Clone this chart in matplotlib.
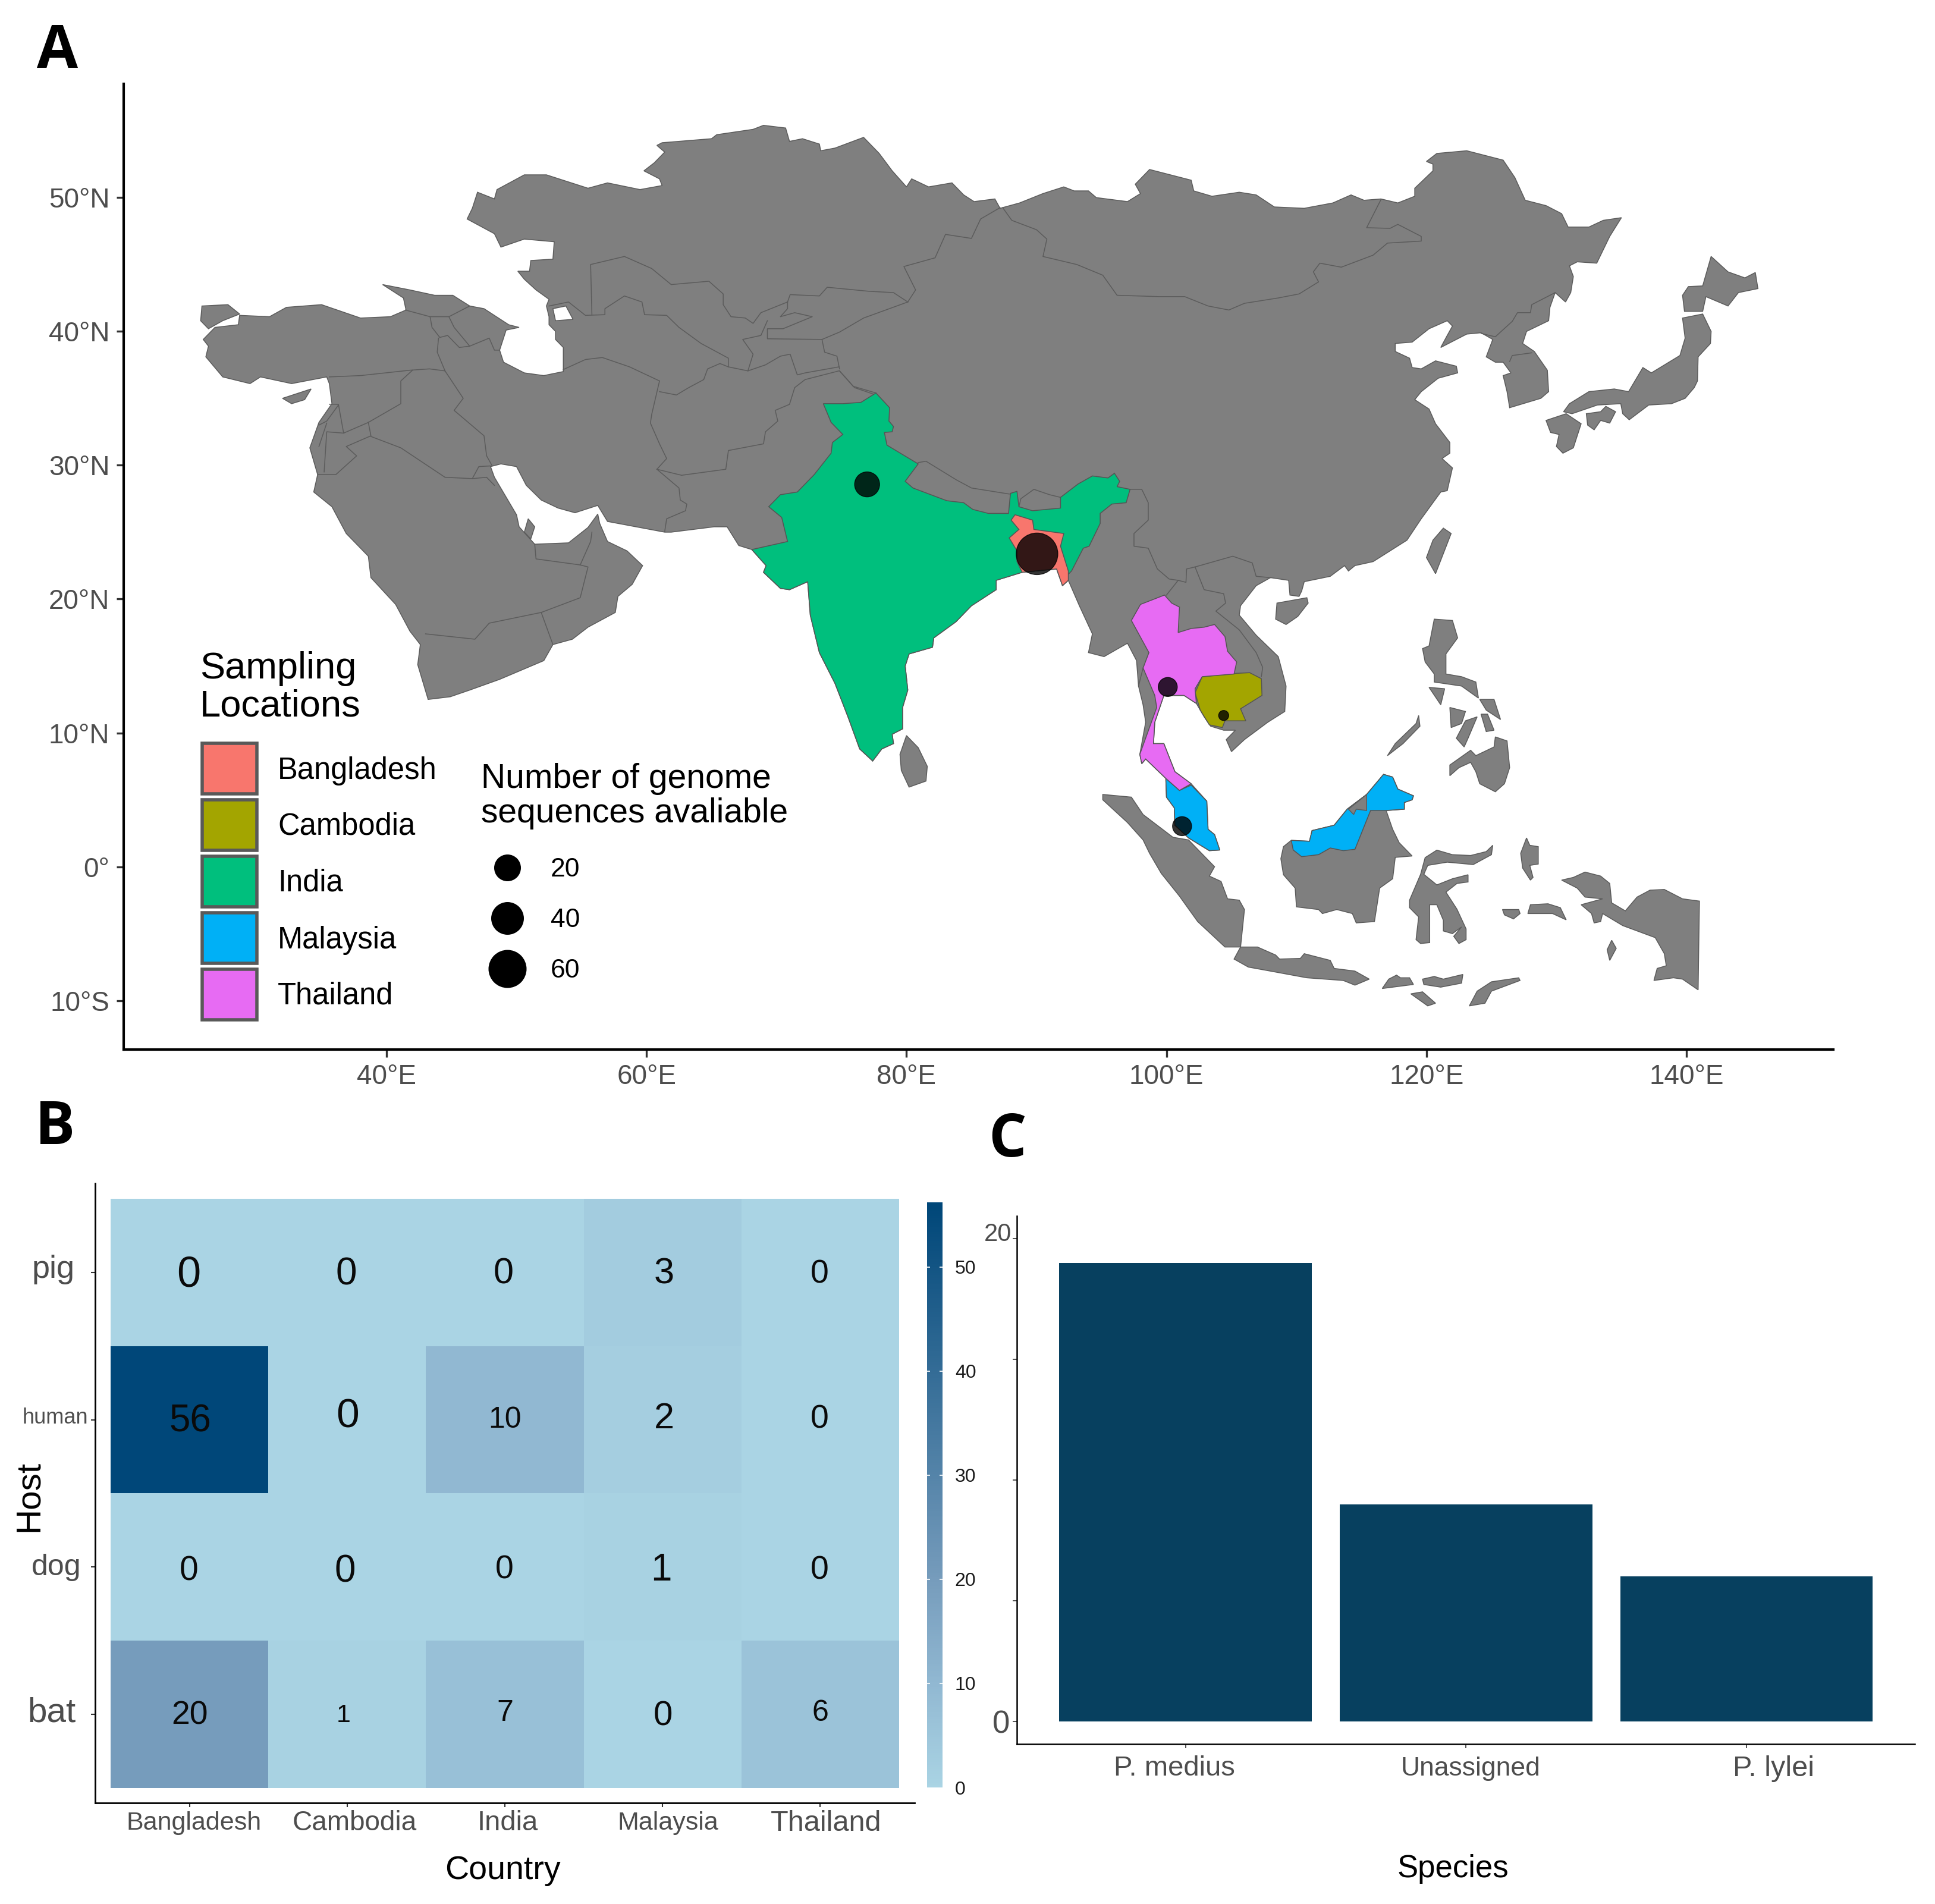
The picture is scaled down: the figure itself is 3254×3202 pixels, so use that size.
import numpy as np
import matplotlib
matplotlib.use("Agg")
import matplotlib.pyplot as plt
from matplotlib.patches import Polygon, Rectangle
from matplotlib.colors import LinearSegmentedColormap

plt.rcParams['font.family'] = ['Liberation Sans', 'DejaVu Sans']

W, H = 3255, 3202

# ---------------------------------------------------------------- map data (lon, lat)
MAINLAND = [
 (28.7,41.2),(31.0,41.1),(32.3,41.8),(35.0,42.0),(38.0,41.0),(40.3,41.1),(41.5,41.6),(41.3,42.5),(39.7,43.5),
 (41.8,43.1),(43.7,42.7),(45.1,42.7),(46.4,41.9),(47.5,41.7),(49.4,40.5),(50.2,40.3),(49.2,40.1),(48.7,38.6),(49.0,37.7),
 (50.6,36.9),(52.1,36.7),(53.6,37.0),(53.6,38.8),(53.0,39.4),(53.0,40.0),(52.5,40.5),(52.5,41.1),(52.3,41.9),(52.5,42.4),
 (51.5,43.1),(50.6,43.9),(50.1,44.5),(51.0,44.5),(51.1,45.3),(52.8,45.4),(52.9,46.7),(50.6,46.9),(48.8,46.3),(48.3,47.3),
 (46.2,48.4),(46.6,49.2),(47.0,50.4),(48.3,49.9),(48.5,50.6),(50.6,51.7),(52.3,51.7),(55.5,50.7),(57.0,51.1),(59.5,50.6),
 (61.2,50.9),(61.0,51.4),(59.8,52.0),(60.6,52.6),(61.4,53.4),(60.8,53.9),(61.2,54.1),(65.0,54.4),(65.4,54.7),(68.2,55.1),
 (69.0,55.4),(70.7,55.2),(71.0,54.2),(72.0,54.4),(73.3,54.0),(73.4,53.5),(74.5,53.7),(76.7,54.5),(77.9,53.3),(78.9,52.0),
 (80.0,50.8),(80.4,51.4),(81.7,50.8),(83.5,51.1),(84.4,50.2),(85.2,49.7),(86.8,49.9),(87.2,49.2),(88.7,49.6),(90.5,50.3),
 (92.1,50.8),(92.9,50.5),(94.0,50.5),(94.6,50.0),(97.0,49.7),(98.0,50.3),(97.6,51.0),(98.7,52.1),(101.9,51.3),(102.1,50.5),
 (103.5,50.1),(105.6,50.4),(106.9,50.2),(108.3,49.3),(110.6,49.2),(112.8,49.6),(114.2,50.2),(115.2,49.8),(116.5,49.9),
 (117.8,49.6),(119.1,50.1),(119.1,50.7),(120.5,52.0),(120.5,52.5),(120.0,52.7),(120.8,53.3),(123.1,53.5),(125.9,52.8),
 (126.8,51.5),(127.6,49.8),(129.2,49.4),(130.4,48.8),(130.9,47.8),(132.5,47.8),(133.6,48.3),(135.0,48.5),(134.1,47.1),
 (133.1,45.1),(131.6,45.2),(131.0,44.9),(131.3,44.1),(131.1,42.9),(130.7,42.2),(129.9,42.9),(129.5,41.8),(129.4,40.8),
 (127.7,40.0),(127.4,39.1),(128.3,38.5),(129.3,37.1),(129.4,35.5),(128.8,35.0),(126.4,34.3),(126.2,35.5),(125.9,36.7),
 (126.5,36.9),(125.9,37.7),(125.3,37.7),(124.6,38.1),(125.1,39.4),(124.2,39.9),(123.1,39.8),(121.1,38.8),(121.6,39.7),
 (122.0,40.4),(121.6,40.8),(120.2,40.2),(118.9,39.2),(117.6,39.1),(117.6,38.5),(118.7,38.0),(118.9,37.3),(119.6,37.2),
 (120.7,37.8),(122.3,37.4),(122.4,36.9),(120.9,36.5),(119.6,35.5),(119.1,34.9),(120.2,34.2),(120.7,33.1),(121.8,31.7),
 (121.8,30.9),(121.2,30.5),(122.0,29.8),(121.6,28.1),(121.1,28.0),(119.6,26.0),(118.5,24.4),(115.9,22.8),(114.5,22.5),
 (114.0,22.1),(113.7,22.5),(112.6,21.7),(110.6,21.3),(110.4,20.6),(110.2,20.2),(109.5,20.3),(109.4,21.4),(108.0,21.6),
 (106.9,21.0),(105.7,19.5),(105.6,18.8),(106.9,17.3),(108.6,15.7),(109.2,13.5),(109.1,11.6),(107.8,10.8),(106.0,9.5),
 (105.0,8.6),(104.6,9.5),(105.3,10.2),(104.4,10.2),(103.4,10.5),(102.9,11.2),(102.3,12.2),(101.35,12.8),(99.8,12.8),
 (99.1,10.8),(99.0,9.2),(99.8,9.2),(100.65,7.1),(101.9,6.2),(103.1,4.9),(103.2,2.8),(103.7,2.4),(104.1,1.25),(103.3,1.2),
 (101.7,2.15),(100.65,3.1),(100.6,4.4),(100.0,5.2),(99.95,6.6),(98.4,8.05),(98.1,7.7),(97.95,8.4),(98.4,10.8),(98.2,12.1),
 (97.85,13.5),(97.7,15.4),(97.0,16.7),(95.2,15.7),(94.0,16.0),(94.3,17.4),(93.3,19.5),(92.45,21.4),(92.0,21.0),(91.55,22.25),
 (88.9,22.0),(86.9,21.4),(86.9,20.7),(85.0,19.5),(83.8,18.3),(82.1,17.1),(82.0,16.4),(80.2,15.9),(79.9,15.0),(80.1,13.2),
 (79.7,11.9),(79.7,10.3),(78.9,9.9),(79.0,9.2),(78.1,8.8),(77.4,7.9),(76.4,8.8),(75.5,11.2),(74.5,13.7),(73.3,16.0),(72.6,18.8),
 (72.4,21.3),(71.0,20.7),(70.3,20.8),(69.0,22.0),(69.2,22.5),(68.1,23.7),(67.1,24.0),(66.2,25.4),(65.2,25.4),(61.9,25.0),(61.4,25.0),
 (57.0,25.8),(56.25,27.0),(54.5,26.45),(53.2,26.8),(51.9,27.4),(50.75,28.5),(50.0,29.9),(48.8,30.1),(48.0,29.9),(48.3,29.1),
 (50.0,26.3),(50.2,25.4),(51.4,24.1),(54.0,24.2),(55.5,25.35),(56.25,26.35),(56.4,25.65),(57.0,24.3),(58.5,23.6),
 (59.7,22.5),(58.9,21.1),(57.8,20.2),(57.6,19.0),(55.5,17.9),(54.3,17.0),(52.8,16.6),(52.1,15.4),(48.7,14.0),(46.4,13.2),
 (44.9,12.7),(43.2,12.5),(42.4,15.1),(42.6,16.6),(41.8,17.6),(40.7,19.6),(38.8,21.6),(38.6,23.2),(36.9,24.9),(35.8,26.9),
 (34.4,28.0),(34.7,29.3),(34.1,31.3),(34.8,33.2),(35.8,34.6),(35.6,36.1),(35.4,36.6),(32.7,36.1),(30.3,36.6),(29.5,36.1),
 (27.4,36.6),(26.1,38.1),(26.3,38.9),(25.9,39.4),(26.8,40.3),(28.6,40.5)]

ISLANDS = {
 'thrace': [(25.8,41.9),(27.8,42.0),(28.7,41.3),(27.4,40.8),(26.3,40.2),(25.7,40.8)],
 'cyprus': [(32.0,35.0),(34.2,35.7),(33.7,34.9),(32.7,34.6)],
 'qatar': [(50.9,26.0),(51.4,25.4),(51.1,24.5),(50.6,25.0)],
 'sri_lanka': [(80.0,9.8),(80.9,8.9),(81.6,7.5),(81.5,6.4),(80.2,5.95),(79.6,7.2),(79.5,8.4)],
 'taiwan': [(121.3,25.3),(121.9,24.9),(120.7,21.9),(120.0,23.1),(120.5,24.4)],
 'hainan': [(108.5,19.7),(110.8,20.1),(110.9,19.7),(110.1,18.7),(109.2,18.1),(108.4,18.5)],
 'luzon': [(120.6,18.5),(122.0,18.4),(122.4,17.1),(121.5,15.9),(121.5,14.4),(122.7,14.2),(123.8,13.8),(124.0,12.6),(122.7,13.5),(120.6,13.8),(120.6,14.4),(119.9,15.3),(119.7,16.3),(120.2,16.5)],
 'mindoro': [(120.2,13.4),(121.4,13.3),(121.1,12.1)],
 'samar': [(124.1,12.5),(125.2,12.5),(125.7,11.0),(124.6,11.7)],
 'leyte': [(124.2,11.4),(124.7,11.4),(125.2,10.2),(124.6,10.1)],
 'panay': [(121.8,11.9),(123.0,11.6),(122.7,10.7),(121.9,10.4)],
 'negros': [(123.0,10.9),(123.9,11.2),(123.2,9.6),(122.9,8.95),(122.3,9.6)],
 'palawan': [(119.4,11.3),(119.5,10.5),(118.2,9.2),(117.0,8.3),(117.6,9.2),(119.2,10.7)],
 'mindanao': [(125.3,9.7),(126.2,9.4),(126.4,7.4),(126.0,6.2),(125.3,5.6),(124.1,6.2),(123.8,7.1),(123.4,7.8),(122.5,7.4),(121.8,6.8),(121.8,7.6),(123.4,8.7),(123.8,8.3),(125.2,8.95)],
 'sumatra': [(95.1,5.4),(97.3,5.2),(98.2,3.9),(100.5,2.2),(101.7,2.0),(103.7,0.0),(103.3,-0.7),(104.2,-1.1),(104.7,-2.4),(105.6,-2.5),(106.0,-3.2),(105.7,-6.0),(104.5,-6.0),(102.4,-4.1),(101.0,-2.2),(99.6,-0.5),(98.7,1.0),(98.2,2.0),(97.0,3.3),(95.1,5.0)],
 'java': [(105.7,-6.0),(107.0,-6.0),(108.4,-6.6),(108.7,-6.9),(110.3,-6.85),(110.6,-6.5),(112.6,-7.0),(112.9,-7.6),(114.5,-7.8),(115.6,-8.4),(114.5,-8.85),(113.6,-8.5),(110.8,-8.3),(108.0,-7.8),(106.3,-7.5),(105.2,-6.9)],
 'sumbawa': [(116.6,-9.1),(117.1,-8.4),(117.7,-8.1),(118.0,-8.3),(118.7,-8.3),(119.0,-8.8)],
 'flores': [(119.7,-8.4),(120.6,-8.2),(121.3,-8.4),(122.8,-8.05),(122.7,-8.7),(121.1,-9.0),(119.8,-8.8)],
 'sumba': [(118.8,-9.5),(119.7,-9.35),(120.7,-10.2),(120.1,-10.4)],
 'timor': [(123.3,-10.4),(123.9,-9.3),(125.0,-8.6),(127.1,-8.3),(127.2,-8.5),(125.0,-9.3),(124.5,-10.2)],
 'borneo': [(109.6,1.97),(111.0,1.9),(111.2,2.7),(112.9,3.1),(113.9,4.3),(115.4,5.4),(116.7,6.9),(117.4,6.7),(117.8,5.8),(119.0,5.3),(118.9,5.0),(118.3,4.8),(118.3,4.3),(116.9,4.2),(117.4,2.8),(117.9,1.8),(118.9,0.8),(117.6,0.7),(117.4,-0.9),(116.4,-1.6),(116.0,-4.1),(114.6,-4.2),(114.3,-3.5),(113.1,-3.2),(112.0,-3.5),(111.7,-3.2),(110.0,-3.0),(109.9,-1.6),(109.0,-0.6),(108.8,0.6),(109.0,1.5)],
 'sulawesi': [(120.8,1.24),(122.0,0.9),(123.4,0.84),(124.6,1.13),(125.1,1.6),(125.0,0.9),(123.6,0.16),(121.6,0.34),(120.1,0.1),(119.8,-0.57),(120.8,-1.36),(122.0,-0.9),(123.2,-0.6),(123.2,-1.14),(122.35,-1.25),(121.5,-1.9),(122.35,-3.18),(123.05,-4.65),(123.05,-5.45),(122.5,-5.74),(122.1,-5.2),(122.7,-4.5),(122.0,-5.0),(121.3,-4.8),(121.3,-4.0),(120.8,-2.84),(120.25,-2.84),(120.25,-5.67),(119.55,-5.74),(119.2,-5.45),(119.4,-3.75),(118.7,-3.06),(118.7,-2.5),(119.55,-0.57),(119.9,0.68)],
 'halmahera': [(127.7,2.15),(127.95,1.6),(128.6,1.5),(128.6,0.2),(127.95,0.1),(128.2,-0.8),(128.0,-1.0),(127.4,-0.1),(127.25,1.0)],
 'buru': [(125.85,-3.2),(127.1,-3.2),(127.2,-3.5),(126.7,-3.9),(126.0,-3.6)],
 'seram': [(128.0,-2.84),(129.35,-2.77),(130.3,-3.06),(130.75,-3.97),(129.7,-3.5),(127.8,-3.5)],
 'aru': [(134.25,-5.5),(134.6,-6.1),(134.1,-7.0),(133.9,-6.2)],
 'new_guinea': [(141.0,-2.57),(139.7,-2.4),(138.3,-1.7),(137.2,-1.75),(136.2,-2.27),(135.3,-3.3),(134.25,-2.7),(134.1,-1.25),(133.4,-0.7),(132.2,-0.4),(131.3,-0.8),(130.4,-1.0),(131.6,-1.6),(132.2,-2.27),(133.55,-2.4),(131.9,-2.84),(132.7,-3.5),(132.9,-4.2),(133.4,-4.1),(133.55,-3.5),(135.1,-4.4),(137.6,-5.3),(138.3,-6.5),(138.45,-7.4),(137.75,-7.6),(137.5,-8.5),(139.0,-8.3),(139.7,-8.4),(140.9,-9.2)],
 'hokkaido': [(141.9,45.6),(143.2,44.45),(144.5,44.0),(145.3,44.4),(145.5,43.2),(144.0,42.9),(143.2,41.9),(141.5,42.6),(141.25,41.5),(139.85,41.5),(139.7,42.7),(140.15,43.35),(141.25,43.4)],
 'honshu': [(141.25,41.3),(141.9,40.0),(141.85,39.1),(140.9,38.1),(140.85,36.3),(140.6,35.8),(139.9,35.0),(138.85,34.6),(137.1,34.5),(135.6,33.4),(135.1,33.85),(134.95,34.6),(133.15,34.5),(131.2,33.85),(130.55,34.0),(131.0,34.6),(132.5,35.5),(134.45,35.7),(135.55,35.5),(136.65,37.3),(137.3,36.9),(139.5,38.2),(139.9,39.5),(139.7,41.0)],
 'shikoku': [(132.3,33.85),(133.4,34.0),(133.8,34.4),(134.55,34.0),(134.1,33.15),(133.4,33.35),(132.9,32.65),(132.4,33.0)],
 'kyushu': [(129.2,33.35),(130.75,33.85),(131.9,33.1),(131.3,31.3),(130.5,30.9),(130.0,31.4),(130.2,32.3),(129.55,32.45)],
}

KARA_BOGAZ = [(52.8,41.7),(53.8,41.9),(54.35,40.9),(53.0,40.8)]
BRUNEI = [(114.0,4.3),(115.4,5.4),(115.4,4.2),(114.6,4.3),(114.4,3.9)]

INDIA = [(77.65,35.4),(78.7,34.3),(78.65,33.3),(79.0,32.9),(78.9,32.5),(78.3,32.45),(78.5,31.5),(80.9,30.1),(79.9,28.8),(80.5,28.3),
 (83.1,27.35),(84.4,27.2),(85.1,26.7),(86.3,26.4),(87.85,26.4),(88.0,27.9),(88.5,28.05),(88.65,26.9),(89.7,26.6),(91.85,26.8),(91.85,27.6),
 (93.2,28.6),(94.3,29.2),(95.5,29.05),(96.0,29.4),(96.4,28.8),(96.2,28.4),(97.2,28.2),(96.9,27.2),(95.8,27.1),(94.9,26.4),(94.9,25.65),
 (94.05,23.95),(93.6,23.8),(92.7,22.1),(92.1,21.5),(91.5,22.6),(88.9,22.0),(86.9,21.4),(86.9,20.7),(85.0,19.5),(83.8,18.3),(82.1,17.1),(82.0,16.4),
 (80.2,15.9),(79.9,15.0),(80.1,13.2),(79.7,11.9),(79.7,10.3),(78.9,9.9),(79.0,9.2),(78.1,8.8),(77.4,7.9),(76.4,8.8),(75.5,11.2),(74.5,13.7),
 (73.3,16.0),(72.6,18.8),(72.4,21.3),(71.0,20.7),(70.3,20.8),(69.0,22.0),(69.2,22.5),(68.1,23.7),(70.85,24.3),(70.4,26.1),(69.4,26.9),(70.3,27.8),
 (71.6,28.0),(72.9,29.3),(74.2,30.9),(74.3,31.7),(75.1,32.3),(74.2,33.2),(73.6,34.6),(75.1,34.6),(76.5,34.7)]
BANGLADESH = [(88.35,26.3),(89.7,25.9),(89.8,25.2),(92.1,24.9),(91.85,23.95),(92.45,22.1),(92.45,21.4),(92.0,21.0),(91.55,22.25),(88.9,22.0),
 (88.5,22.8),(88.5,23.6),(87.9,24.57),(88.65,25.2),(88.05,25.9)]
THAILAND = [(99.85,20.3),(100.4,19.7),(101.0,19.4),(100.9,17.5),(101.9,17.8),(102.9,17.9),(103.7,18.1),(104.5,17.2),(104.7,16.1),(105.4,15.3),
 (105.2,14.4),(102.75,14.2),(102.2,13.3),(102.3,12.2),(101.35,12.8),(99.8,12.8),(99.1,10.8),(99.0,9.2),(99.8,9.2),(100.65,7.1),(101.9,6.2),(101.0,5.7),
 (99.95,6.6),(98.4,8.05),(98.1,7.7),(97.95,8.4),(99.25,11.9),(99.1,12.8),(98.2,14.85),(98.65,16.0),(97.3,18.4),(98.0,19.6)]
CAMBODIA = [(102.75,14.2),(105.4,14.45),(106.4,14.5),(107.3,14.05),(107.35,12.8),(105.7,11.8),(106.1,10.9),(104.5,10.9),(104.3,10.4),(103.3,10.6),(102.6,11.7),(102.2,13.0)]
MALAYSIA_W = [(99.95,6.6),(101.0,5.7),(101.9,6.1),(103.1,4.9),(103.2,2.8),(103.7,2.4),(104.1,1.25),(103.3,1.2),(101.7,2.15),(100.65,3.1),(100.6,4.4),(100.0,5.2)]
MALAYSIA_E = [(109.6,1.97),(111.0,1.9),(111.2,2.7),(112.9,3.1),(113.9,4.3),(115.4,5.4),(116.7,6.9),(117.4,6.7),(117.8,5.8),(119.0,5.3),(118.9,5.0),(118.3,4.8),(118.3,4.3),
 (116.9,4.2),(115.7,4.2),(114.5,1.3),(113.6,1.2),(112.6,1.4),(111.7,0.9),(110.4,0.75),(109.75,1.25)]

BORDERS = [
 [(35.6,36.6),(38.0,36.7),(41.8,37.1),(43.3,37.2),(44.5,37.05)],
 [(42.0,37.1),(41.1,36.3),(41.1,34.6),(38.6,33.2)],
 [(35.6,34.56),(36.3,34.55),(36.7,32.4),(38.6,33.2)],
 [(36.3,34.5),(35.4,33.3),(34.8,33.0)],
 [(35.4,33.15),(34.8,31.4)],
 [(36.7,32.4),(35.4,32.5),(35.2,29.5)],
 [(38.6,33.2),(38.8,32.2),(36.9,31.4),(37.7,30.7),(36.1,29.3),(34.7,29.3)],
 [(38.8,32.15),(41.1,31.3),(44.5,29.1),(46.6,29.0),(47.1,29.9),(48.0,29.95)],
 [(46.6,29.0),(47.7,29.1),(48.3,28.5)],
 [(44.5,37.05),(45.9,35.0),(45.2,34.1),(47.5,32.2),(47.7,30.7),(48.1,30.0)],
 [(44.0,39.5),(43.9,38.45),(44.5,37.05)],
 [(41.45,41.6),(43.35,41.1),(43.5,40.3),(44.1,39.55)],
 [(43.35,41.1),(44.8,41.1),(45.2,40.3),(46.4,38.9),(45.6,38.8),(44.7,39.7),(44.1,39.55)],
 [(44.8,41.1),(46.4,41.9)],
 [(46.4,38.9),(47.9,39.5),(48.3,38.6),(48.7,38.6)],
 [(53.6,37.15),(55.3,37.9),(56.6,38.05),(58.7,37.35),(61.0,36.3)],
 [(61.0,36.3),(60.4,33.8),(60.3,33.15),(61.0,31.6),(61.55,30.5),(60.8,29.7)],
 [(60.8,29.7),(62.5,28.3),(62.6,27.4),(63.1,27.1),(63.0,26.6),(61.55,26.0),(61.4,25.05)],
 [(60.8,29.7),(62.7,29.25),(66.1,29.7),(66.3,31.1),(69.0,31.6),(69.15,32.5),(70.1,33.3),(69.9,34.1),(71.0,34.55),(71.4,35.8),(72.2,36.4),(74.8,37.05)],
 [(61.0,35.5),(62.3,35.25),(63.25,35.8),(64.4,36.4),(64.7,37.2),(65.65,37.6),(66.3,37.35),(67.8,37.05),(69.15,37.5),(70.3,38.15),(71.05,38.3),(71.6,36.75),(72.2,36.9),(74.8,37.35)],
 [(66.3,37.35),(66.3,38.0),(64.2,39.1),(62.5,40.3),(61.55,41.2),(59.85,41.25),(59.65,42.2),(58.3,42.65),(56.8,41.7),(56.8,41.25),(55.3,41.2),(54.0,42.2),(52.5,41.9)],
 [(55.8,41.25),(55.7,45.0),(58.3,45.6),(60.4,44.7),(61.9,43.5),(64.8,43.75),(65.9,42.8),(65.9,42.0),(66.5,41.1),(67.6,41.0),(68.2,40.6),(68.8,41.4),(70.85,42.2)],
 [(70.85,42.2),(71.05,42.75),(73.3,42.65),(73.9,43.3),(77.1,43.0),(79.0,42.9),(80.1,42.2)],
 [(80.1,42.2),(76.7,41.0),(74.85,39.95),(73.5,39.4),(69.3,39.45),(69.3,40.2),(70.5,40.2),(72.75,41.1),(71.4,41.4),(70.3,41.1),(70.85,41.7),(70.85,42.2)],
 [(69.3,40.8),(68.8,39.7),(67.4,39.4),(68.2,38.3),(67.8,37.05)],
 [(73.5,39.4),(73.7,38.45),(74.65,38.15),(74.85,37.2)],
 [(74.85,37.05),(76.0,35.8),(77.5,35.3)],
 [(80.1,42.2),(80.7,43.1),(79.8,44.85),(82.2,45.5),(83.0,47.25),(85.0,46.95),(85.7,48.4),(87.2,49.25)],
 [(87.4,49.25),(88.1,48.3),(90.0,47.6),(90.8,46.9),(90.5,45.6),(93.1,45.0),(95.1,44.2),(96.2,42.7),(99.45,42.6),(101.4,42.6),(103.2,41.9),(104.8,41.6),
  (106.0,42.1),(108.6,42.5),(110.2,42.8),(111.7,43.7),(111.3,44.45),(111.8,45.1),(113.45,44.8),(115.9,45.7),(117.0,46.6),(119.6,46.75),(119.6,47.1),
  (117.8,48.0),(117.2,47.7),(115.4,47.75),(116.5,49.85)],
 [(124.2,39.85),(125.3,39.6),(126.6,40.75),(127.0,41.4),(128.0,41.4),(128.1,42.0),(129.9,42.9)],
 [(126.4,37.75),(126.6,38.2),(128.1,38.4)],
 [(97.2,28.2),(98.1,28.2),(98.6,27.2),(98.6,25.9),(97.5,24.9),(97.5,23.95),(98.6,23.8),(99.3,22.25),(100.2,21.5),(100.9,21.4)],
 [(100.9,21.4),(100.0,20.3)],
 [(100.9,21.4),(101.5,21.25),(101.55,22.25),(102.2,22.4)],
 [(102.2,22.4),(102.9,20.7),(104.4,20.4),(104.55,19.7),(103.8,19.1),(105.6,17.7),(106.9,16.0),(107.4,14.9),(107.3,14.2)],
 [(102.2,22.4),(105.1,23.2),(106.6,22.7),(106.9,21.7),(108.0,21.6)],
 [(80.9,30.2),(81.5,30.3),(83.85,28.9),(85.0,28.3),(87.9,27.85)],
 [(88.65,26.9),(88.8,27.5),(89.8,28.2),(91.0,27.8),(91.85,27.6)],
 [(74.85,37.05),(75.9,35.9),(77.65,35.4)],
 [(97.85,13.5),(98.2,14.85)],
 [(43.0,17.4),(46.8,17.0),(47.9,18.2),(51.9,19.0),(54.9,20.1),(55.5,22.4),(54.9,22.55),(51.5,23.0),(51.4,24.1)],
 [(51.9,19.0),(52.8,16.6)],
 [(54.9,22.55),(55.7,24.3),(55.8,25.0)],
]

SAMPLED = [('India', INDIA), ('Bangladesh', BANGLADESH), ('Cambodia', CAMBODIA), ('Malaysia', MALAYSIA_W), ('Malaysia', MALAYSIA_E), ('Thailand', THAILAND)]
COUNTRIES = ['Bangladesh', 'Cambodia', 'India', 'Malaysia', 'Thailand']
COUNTRY_COLORS = ['#F8766D', '#A3A500', '#00BF7D', '#00B0F6', '#E76BF3']
SITE_LON = [90.04, 104.4, 76.97, 101.2, 100.1]
SITE_LAT = [23.38, 11.3, 28.57, 3.03, 13.43]

HOSTS = ['bat', 'dog', 'human', 'pig']
COUNTS = np.array([[20, 1, 7, 0, 6],
                   [0, 0, 0, 1, 0],
                   [56, 0, 10, 2, 0],
                   [0, 0, 0, 3, 0]])
SPECIES = ['P. medius', 'Unassigned', 'P. lylei']
SPECIES_VALUES = [19, 9, 6]

SIZE_BREAKS = [1, 6, 17, 20, 40, 60, 76]
SIZE_DIAM_PX = [17, 32, 42, 45, 55, 64, 70]
LEGEND_SIZES = [20, 40, 60]

GRAY_FILL = '#7F7F7F'
GRAY_EDGE = '#5C5C5C'
TICK_GRAY = '#4D4D4D'

fig = plt.figure(figsize=(W / 100, H / 100), dpi=100, facecolor='white')

def axes_px(x0, y0, x1, y1, **kw):
    return fig.add_axes([x0 / W, 1 - y1 / H, (x1 - x0) / W, (y1 - y0) / H], **kw)

def bubble_s(n):
    return (np.interp(n, SIZE_BREAKS, SIZE_DIAM_PX) * 0.72) ** 2

# ---------------------------------------------------------------- A: map
ax = axes_px(208, 141, 3083, 1765)
ax.set_xlim(19.78, 151.3)
ax.set_ylim(-13.66, 58.5)
for s in ['top', 'right']:
    ax.spines[s].set_visible(False)
for s in ['left', 'bottom']:
    ax.spines[s].set_linewidth(3)
elw = 1.1
ax.add_patch(Polygon(MAINLAND, fc=GRAY_FILL, ec=GRAY_EDGE, lw=elw, zorder=1))
for pts in ISLANDS.values():
    ax.add_patch(Polygon(pts, fc=GRAY_FILL, ec=GRAY_EDGE, lw=elw, zorder=1))
ax.add_patch(Polygon(KARA_BOGAZ, fc='white', ec=GRAY_EDGE, lw=elw, zorder=2))
for line in BORDERS:
    a = np.array(line)
    ax.plot(a[:, 0], a[:, 1], color=GRAY_EDGE, lw=elw, zorder=2, solid_joinstyle='round')
for i, (name, pts) in enumerate(SAMPLED):
    col = COUNTRY_COLORS[COUNTRIES.index(name)]
    ax.add_patch(Polygon(pts, fc=col, ec='#555555', lw=elw, zorder=3 + i * 0.01))
ax.add_patch(Polygon(BRUNEI, fc=GRAY_FILL, ec=GRAY_EDGE, lw=elw, zorder=3.5))
ax.scatter(SITE_LON, SITE_LAT, s=bubble_s(COUNTS.sum(axis=0)), c='black', alpha=0.8, edgecolors='black', linewidths=1, zorder=5)
ax.set_xticks([40, 60, 80, 100, 120, 140], ['40°E', '60°E', '80°E', '100°E', '120°E', '140°E'])
ax.set_yticks([-10, 0, 10, 20, 30, 40, 50], ['10°S', '0°', '10°N', '20°N', '30°N', '40°N', '50°N'])
ax.tick_params(length=9, width=2.4, color='#333333', labelcolor=TICK_GRAY, labelsize=33, pad=8)

# ---------------------------------------------------------------- B: heatmap
ax_b = axes_px(160, 1990, 1538, 3032)
cmap = LinearSegmentedColormap.from_list('blues', [(0, '#AAD4E4'), (10 / 56, '#91B8D2'), (20 / 56, '#769CBC'), (1, '#004779')])
ax_b.pcolormesh(np.arange(6), np.arange(5), COUNTS, cmap=cmap, vmin=0, vmax=56, linewidth=0, rasterized=True)
ax_b.set_xlim(-0.098, 5.098)
ax_b.set_ylim(-0.101, 4.105)
for s in ['top', 'right']:
    ax_b.spines[s].set_visible(False)
for s in ['left', 'bottom']:
    ax_b.spines[s].set_linewidth(2)
ax_b.set_xticks(np.arange(5) + 0.5, [''] * 5)
ax_b.set_yticks(np.arange(4) + 0.5, [''] * 4)
ax_b.tick_params(length=5, width=1.5, color='#333333')

# colourbar
ax_c = axes_px(1559, 2022, 1585, 3006)
ax_c.imshow(np.linspace(56.2, 0, 256)[:, None], aspect='auto', cmap=cmap, vmin=0, vmax=56, extent=(0, 1, 0, 56.2))
CB_TICKS = [0, 10, 20, 30, 40, 50]
ax_c.hlines(CB_TICKS[1:], 0, 0.2, color='white', lw=1.2)
ax_c.hlines(CB_TICKS[1:], 0.8, 1, color='white', lw=1.2)
for s in ax_c.spines.values():
    s.set_visible(False)
ax_c.set_xticks([])
ax_c.yaxis.tick_right()
ax_c.set_yticks(CB_TICKS)
ax_c.tick_params(axis='y', length=0, pad=15, labelsize=23, labelcolor='#1a1a1a')

# ---------------------------------------------------------------- C: bars
ax_s = axes_px(1710, 2045, 3220, 2933)
ax_s.bar(range(3), SPECIES_VALUES, width=0.9, color='#07405F')
ax_s.set_xlim(-0.601, 2.6)
ax_s.set_ylim(-0.936, 20.94)
for s in ['top', 'right']:
    ax_s.spines[s].set_visible(False)
for s in ['left', 'bottom']:
    ax_s.spines[s].set_linewidth(1.8)
ax_s.set_xticks(range(3), [''] * 3)
ax_s.set_yticks([0, 5, 10, 15, 20], [''] * 5)
ax_s.tick_params(length=5, width=1.2, color='#333333')

# ---------------------------------------------------------------- overlay: text and legends
ov = fig.add_axes([0, 0, 1, 1], facecolor='none')
ov.set_xlim(0, W)
ov.set_ylim(H, 0)
ov.axis('off')

def T(x, y, s, size, color='black', ha='center', va='center', **kw):
    ov.text(x, y, s, fontsize=size, color=color, ha=ha, va=va, **kw)

for (x, y, s) in [(97, 87, 'A'), (93, 1897, 'B'), (1694, 1918, 'C')]:
    T(x, y, s, 72, family='Open Sans', fontweight='bold')

T(336, 1124, 'Sampling', 45.5, ha='left')
T(336, 1188, 'Locations', 45.5, ha='left')
box_tops = [1247, 1342, 1437, 1532, 1627]
label_ys = [1296, 1390, 1485, 1581, 1675]
for top, ly, name, col in zip(box_tops, label_ys, COUNTRIES, COUNTRY_COLORS):
    ov.add_patch(Rectangle((340, top + 3), 92, 85, fc=col, ec='#595959', lw=4))
    T(467, ly, name, 36.5, ha='left')
T(809, 1310, 'Number of genome', 41, ha='left')
T(809, 1368, 'sequences avaliable', 41, ha='left')
for yy, n in zip([1459, 1544, 1629], LEGEND_SIZES):
    ov.scatter([853], [yy], s=bubble_s(n), c='black', linewidths=0)
    T(926, yy + 3, str(n), 32, ha='left')

# heatmap annotations: cell order follows COUNTS, centres and digit sizes
ANN_X = [[319, 578, 849, 1115, 1379], [318, 580, 848, 1112, 1378], [320, 585, 849, 1117, 1378], [317, 582, 847, 1117, 1378]]
ANN_Y = [[2885, 2885, 2881, 2886, 2881], [2642, 2643, 2640, 2641, 2641], [2390, 2382, 2388, 2386, 2387], [2145, 2143, 2143, 2143, 2143]]
ANN_SIZE = [[40, 31, 36, 42, 36], [41, 46, 40, 46, 40], [46, 50, 36, 44, 40], [52, 46, 44, 44, 40]]
for r in range(4):
    for c in range(5):
        T(ANN_X[r][c], ANN_Y[r][c], str(COUNTS[r, c]), ANN_SIZE[r][c], color='#0a0a0a')

for name, x, size in zip(COUNTRIES, [326, 596, 854, 1123, 1389], [31, 33, 34, 31, 35]):
    T(x, 3066, name, size, color=TICK_GRAY)
for name, x, y, size in zip(HOSTS, [128, 137, 148, 126], [2880, 2636, 2384, 2135], [42, 36, 26, 39]):
    T(x, y, name, size, color=TICK_GRAY, ha='right')
T(845, 3146, 'Country', 40)
T(49, 2516, 'Host', 42, rotation=90)

for name, x, size in zip(SPECIES, [1975, 2473, 2983], [34, 32, 35]):
    T(x, 2974, name, size, color=TICK_GRAY)
T(2443, 3143, 'Species', 38)
T(1678, 2076, '20', 30, color=TICK_GRAY)
T(1684, 2900, '0', 38, color=TICK_GRAY)

fig.savefig('out.png', dpi=100, facecolor='white')
